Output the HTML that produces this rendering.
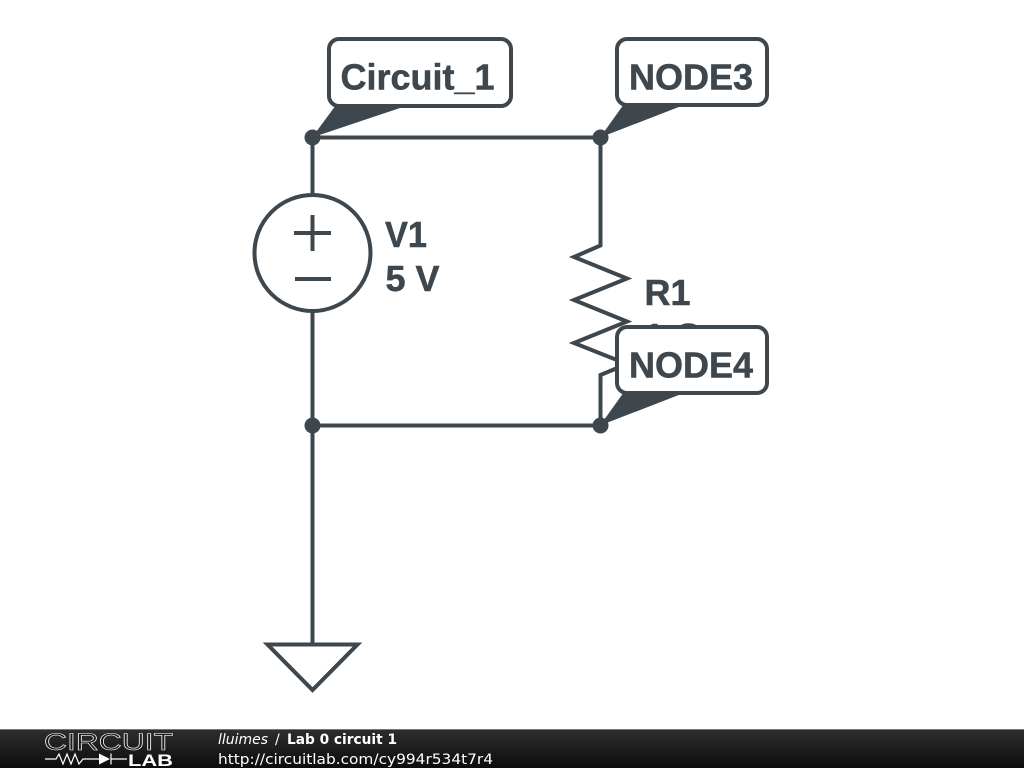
<!DOCTYPE html>
<html>
<head>
<meta charset="utf-8">
<style>
html,body{margin:0;padding:0;background:#fff;width:1024px;height:768px;overflow:hidden}
svg{display:block}
.t{font-family:"Liberation Sans",sans-serif;font-weight:bold;font-size:36px;fill:#3d474d;stroke:#3d474d;stroke-width:.5px}
.f{font-family:"DejaVu Sans",sans-serif;font-size:14px;fill:#fff}
</style>
</head>
<body>
<svg width="1024" height="768" viewBox="0 0 1024 768" xmlns="http://www.w3.org/2000/svg">
<defs>
<linearGradient id="g" x1="0" y1="0" x2="0" y2="1">
<stop offset="0" stop-color="#2e2e2e"/>
<stop offset="1" stop-color="#0c0c0c"/>
</linearGradient>
</defs>
<rect width="1024" height="768" fill="#fff"/>
<g fill="none" stroke="#3d474d" stroke-width="4" stroke-linejoin="miter">
<path d="M312 137.500H600.500V245.500L574 257L627 278.500L574 300L627 321.500L574 343L627 364L600.500 375V425.500H312"/>
<path d="M312.500 137V195M312.500 311V644"/>
<circle cx="312.500" cy="253" r="58"/>
<path d="M294 233H331M312.500 215V251M295 279H331"/>
<path d="M267.500 644.500H357.500L312.500 690Z"/>
</g>
<g fill="#3d474d">
<circle cx="312.500" cy="137.500" r="8"/>
<circle cx="600.500" cy="137.500" r="8"/>
<circle cx="312.500" cy="425.500" r="8"/>
<circle cx="600.500" cy="425.500" r="8"/>
</g>
<text class="t" x="385" y="247" textLength="42" lengthAdjust="spacingAndGlyphs">V1</text>
<text class="t" x="385.500" y="291">5 V</text>
<text class="t" x="644.500" y="305">R1</text>
<text class="t" x="644" y="349">1 Ω</text>
<g fill="#fff" stroke="#3d474d" stroke-width="4">
<rect x="329" y="39" width="182" height="67" rx="10"/>
<rect x="617" y="39" width="150" height="66" rx="10"/>
<rect x="617" y="327" width="150" height="66" rx="10"/>
</g>
<g fill="#3d474d">
<path d="M312 137.500L336 105H403V107Z"/>
<path d="M600 137.500L624 104H680V106.500Z"/>
<path d="M600 425.500L624 392H680V394.500Z"/>
</g>
<text class="t" x="340.500" y="89.500">Circuit_1</text>
<text class="t" x="629" y="89.500">NODE3</text>
<text class="t" x="629" y="377.500">NODE4</text>
<rect x="0" y="729" width="1024" height="39" fill="url(#g)"/>
<rect x="0" y="729" width="1024" height="1" fill="#777"/>
<text x="44" y="750" textLength="129" lengthAdjust="spacingAndGlyphs" font-family="Liberation Sans,sans-serif" font-size="24" fill="#1c1c1c" stroke="#fff" stroke-width=".6">CIRCUIT</text>
<path d="M45 759H56L59 754L63 764L67 754L71 764L75 754L79 764L83 759H99M111 753.500V764.500M111 759H127" fill="none" stroke="#fff" stroke-width="1.200"/>
<path d="M99 753.500L110 759L99 764.500Z" fill="#fff"/>
<text x="128" y="766" textLength="45" lengthAdjust="spacingAndGlyphs" font-family="Liberation Sans,sans-serif" font-weight="bold" font-size="17" fill="#fff">LAB</text>
<text class="f" x="218" y="744"><tspan font-style="italic">lluimes</tspan></text>
<text class="f" x="275" y="744">/</text>
<text class="f" x="287" y="744" font-weight="bold" textLength="110" lengthAdjust="spacingAndGlyphs">Lab 0 circuit 1</text>
<text class="f" x="218" y="764" textLength="275" lengthAdjust="spacingAndGlyphs">http://circuitlab.com/cy994r534t7r4</text>
</svg>
</body>
</html>
